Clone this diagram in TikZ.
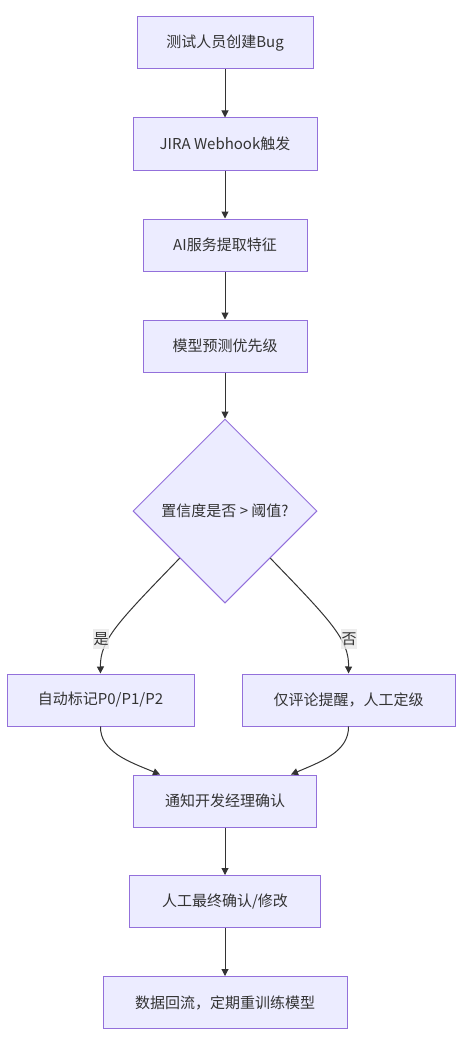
\documentclass[tikz,border=0pt]{standalone}
\usepackage{fontspec}
\setmainfont{Noto Sans CJK SC}
\usetikzlibrary{shapes.geometric,arrows.meta,calc}
\definecolor{nodefill}{HTML}{ECECFF}
\definecolor{nodeborder}{HTML}{9370DB}
\definecolor{edgecol}{HTML}{333333}
\definecolor{textcol}{HTML}{333333}
\definecolor{lblfill}{HTML}{E8E8E8}
\tikzset{
  box/.style={draw=nodeborder, fill=nodefill, line width=1pt, text=textcol,
    font=\fontsize{15}{18}\selectfont, minimum height=52pt, inner sep=0pt},
  decision/.style={diamond, aspect=1, draw=nodeborder, fill=nodefill, line width=1pt,
    text=textcol, font=\fontsize{15}{18}\selectfont, minimum width=184pt,
    minimum height=184pt, inner sep=0pt},
  flow/.style={draw=edgecol, line width=1pt, -{Triangle[length=7pt,width=7pt]}},
  elabel/.style={fill=lblfill, fill opacity=0.8, text opacity=1, text=textcol,
    font=\fontsize{15}{18}\selectfont, inner xsep=0.5pt, inner ysep=3.5pt}
}
\begin{document}
\begin{tikzpicture}[x=1pt,y=-1pt]
\useasboundingbox (0,0) rectangle (463,1046);
\node[box, minimum width=176pt] (n1) at (225,43) {测试人员创建Bug};
\node[box, minimum width=184pt] (n2) at (225,144) {JIRA Webhook触发};
\node[box, minimum width=164pt] (n3) at (225,245) {AI服务提取特征};
\node[box, minimum width=164pt] (n4) at (225,346) {模型预测优先级};
\node[decision] (d) at (225,511) {置信度是否 > 阈值?};
\node[box, minimum width=187pt] (b1) at (100.5,700) {自动标记P0/P1/P2};
\node[box, minimum width=213pt] (b2) at (348.5,700) {仅评论提醒，人工定级};
\node[box, minimum width=183pt] (m) at (225,801) {通知开发经理确认};
\node[box, minimum width=191pt] (n9) at (225,901.5) {人工最终确认/修改};
\node[box, minimum width=244pt] (n10) at (225,1002.5) {数据回流，定期重训练模型};

\draw[flow] (n1) -- (n2);
\draw[flow] (n2) -- (n3);
\draw[flow] (n3) -- (n4);
\draw[flow] (n4) -- (d.north);

\coordinate (dl) at ($(d.west)!0.51!(d.south)$);
\coordinate (dr) at ($(d.east)!0.51!(d.south)$);
\draw[flow] (dl) .. controls (118,622) and (100,640) .. (b1.north);
\draw[flow] (dr) .. controls (332,622) and (349,640) .. (b2.north);
\node[elabel] (ly) at (101,639) {是};
\node[elabel] (ln) at (349,639) {否};

\draw[flow] (b1.south) .. controls (100,752) and (130,762) .. ([xshift=-65pt]m.north);
\draw[flow] (b2.south) .. controls (349,752) and (320,762) .. ([xshift=66pt]m.north);

\draw[flow] (m) -- (n9);
\draw[flow] (n9) -- (n10);
\end{tikzpicture}
\end{document}
